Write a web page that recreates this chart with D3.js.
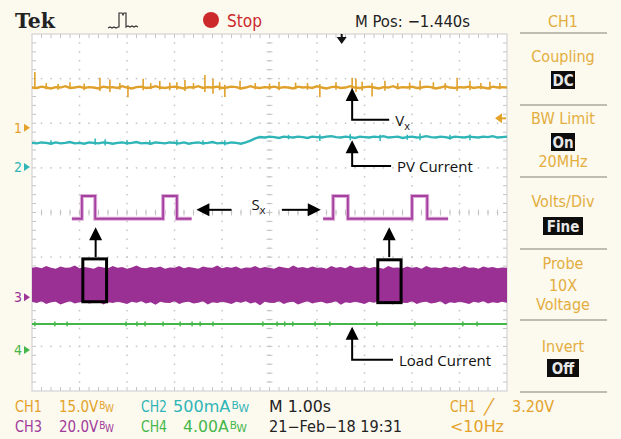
<!DOCTYPE html>
<html><head><meta charset="utf-8">
<script src="https://cdn.jsdelivr.net/npm/d3@7"></script>
<style>
body{margin:0;background:#fcf9ef;}
svg{display:block}
.scope{font-family:"DejaVu Sans Condensed","Liberation Sans Narrow","Arial Narrow",sans-serif;}
.ann{font-family:"Open Sans","Noto Sans",sans-serif;}
</style>
</head><body>
<svg id="c" width="621" height="439"></svg>
<script>
// ---------- DATA (time in s across 10 div at 1.00 s/div, amplitude in divisions from centre) ----------
const sampleStep = 0.1; // s between stored samples
const ch1Level = [2.80,2.79,2.82,2.80,2.78,2.81,2.80,2.83,2.79,2.80,
 2.82,2.79,2.81,2.80,2.78,2.82,2.80,2.81,2.79,2.83,
 2.80,2.78,2.81,2.82,2.79,2.80,2.83,2.80,2.79,2.81,
 2.82,2.80,2.78,2.81,2.80,2.83,2.79,2.81,2.80,2.82,
 2.79,2.80,2.82,2.81,2.78,2.80,2.83,2.80,2.79,2.81,
 2.80,2.82,2.79,2.81,2.80,2.78,2.82,2.80,2.81,2.79,
 2.83,2.80,2.78,2.81,2.82,2.79,2.80,2.83,2.80,2.79,
 2.81,2.82,2.80,2.78,2.81,2.80,2.83,2.79,2.81,2.80,
 2.82,2.79,2.80,2.82,2.81,2.78,2.80,2.83,2.80,2.79,
 2.81,2.80,2.82,2.79,2.81,2.80,2.78,2.82,2.80,2.81,2.80];
const ch1Spikes = [[0.06,2.76,3.15],[0.30,2.76,2.90],[0.55,2.75,2.88],[0.80,2.77,2.92],[1.10,2.74,2.89],
 [1.43,2.72,3.02],[1.64,2.70,2.98],[1.85,2.75,2.90],[2.02,2.58,2.85],[2.34,2.74,3.00],[2.50,2.76,2.90],
 [2.69,2.75,2.95],[2.90,2.74,2.91],[3.05,2.75,2.92],[3.22,2.72,2.97],[3.40,2.76,2.90],[3.64,2.70,3.08],
 [3.81,2.66,3.00],[3.95,2.74,2.92],[4.06,2.59,2.86],[4.38,2.75,2.95],[4.70,2.76,2.90],[5.00,2.75,2.89],
 [5.20,2.74,2.93],[5.55,2.76,2.91],[5.80,2.75,2.90],[6.06,2.58,2.88],[6.40,2.75,2.92],[6.74,2.65,3.02],
 [6.82,2.70,3.00],[6.95,2.73,2.93],[7.16,2.60,2.90],[7.43,2.73,2.95],[7.70,2.76,2.90],[7.95,2.75,2.91],
 [8.17,2.74,2.96],[8.45,2.76,2.92],[8.70,2.75,2.90],[8.95,2.72,3.02],[9.22,2.74,2.95],[9.45,2.76,2.90],
 [9.64,2.75,2.93],[9.85,2.76,2.90]];
const ch2Level = [1.56,1.55,1.57,1.56,1.54,1.57,1.55,1.56,1.58,1.55,
 1.56,1.54,1.57,1.56,1.55,1.57,1.56,1.54,1.56,1.57,
 1.55,1.56,1.58,1.55,1.56,1.54,1.57,1.56,1.55,1.57,
 1.56,1.55,1.57,1.54,1.56,1.57,1.55,1.56,1.58,1.55,
 1.56,1.55,1.57,1.56,1.54,1.57,1.61,1.66,1.69,1.68,
 1.70,1.69,1.67,1.70,1.69,1.68,1.70,1.69,1.67,1.70,
 1.69,1.68,1.70,1.71,1.69,1.68,1.70,1.69,1.67,1.70,
 1.69,1.68,1.70,1.69,1.71,1.68,1.69,1.70,1.67,1.69,
 1.70,1.68,1.69,1.71,1.69,1.68,1.70,1.69,1.67,1.70,
 1.69,1.68,1.70,1.69,1.68,1.70,1.69,1.71,1.68,1.69,1.70];
const ch2Spikes = [[0.40,1.52,1.62],[1.33,1.52,1.66],[1.54,1.50,1.64],[2.00,1.52,1.62],[2.48,1.52,1.62],
 [3.05,1.50,1.63],[3.60,1.52,1.62],[4.06,1.50,1.62],[5.40,1.64,1.74],[6.06,1.60,1.75],[6.70,1.62,1.76],
 [7.33,1.60,1.74],[7.90,1.63,1.74],[8.17,1.62,1.77],[8.80,1.63,1.74],[9.22,1.62,1.75]];
const ch3BandTop = [-1.24,-1.22,-1.25,-1.20,-1.24,-1.26,-1.21,-1.24,-1.23,-1.19,
 -1.25,-1.22,-1.24,-1.26,-1.21,-1.23,-1.25,-1.20,-1.24,-1.22,
 -1.26,-1.23,-1.19,-1.24,-1.25,-1.22,-1.24,-1.21,-1.26,-1.23,
 -1.24,-1.20,-1.25,-1.22,-1.24,-1.26,-1.21,-1.23,-1.24,-1.19,
 -1.25,-1.22,-1.24,-1.21,-1.26,-1.23,-1.24,-1.20,-1.25,-1.22,
 -1.24,-1.26,-1.21,-1.23,-1.25,-1.19,-1.24,-1.22,-1.25,-1.21,
 -1.24,-1.23,-1.26,-1.20,-1.24,-1.22,-1.25,-1.19,-1.24,-1.23,
 -1.21,-1.25,-1.22,-1.24,-1.26,-1.20,-1.24,-1.23,-1.25,-1.21,
 -1.24,-1.22,-1.26,-1.20,-1.24,-1.23,-1.25,-1.21,-1.24,-1.22,
 -1.25,-1.20,-1.24,-1.23,-1.26,-1.21,-1.24,-1.22,-1.25,-1.23,-1.24];
const ch3BandBottom = [-2.00,-2.03,-1.99,-2.05,-2.01,-2.00,-2.06,-2.02,-1.99,-2.04,
 -2.01,-2.00,-2.04,-2.02,-1.99,-2.06,-2.01,-2.03,-2.00,-2.02,
 -2.05,-2.00,-2.02,-1.99,-2.04,-2.01,-2.07,-2.00,-2.02,-2.03,
 -1.99,-2.05,-2.01,-2.00,-2.04,-2.02,-1.99,-2.06,-2.01,-2.03,
 -2.00,-2.02,-2.05,-2.00,-2.02,-1.99,-2.04,-2.01,-2.08,-2.00,
 -2.02,-2.03,-1.99,-2.05,-2.01,-2.00,-2.06,-2.02,-1.99,-2.04,
 -2.01,-2.00,-2.04,-2.02,-1.99,-2.07,-2.01,-2.03,-2.00,-2.02,
 -2.05,-2.00,-2.02,-1.99,-2.04,-2.01,-2.06,-2.00,-2.02,-2.03,
 -1.99,-2.05,-2.01,-2.00,-2.04,-2.02,-1.99,-2.06,-2.01,-2.03,
 -2.00,-2.02,-2.05,-2.00,-2.02,-1.99,-2.04,-2.01,-2.03,-2.00,-2.02];
const sxTrace1 = [[0.84,-0.14],[1.05,-0.14],[1.05,0.37],[1.33,0.37],[1.33,-0.14],[2.76,-0.14],[2.76,0.37],[3.05,0.37],[3.05,-0.14],[3.36,-0.14]];
const sxTrace2 = [[6.13,-0.14],[6.34,-0.14],[6.34,0.37],[6.65,0.37],[6.65,-0.14],[8.00,-0.14],[8.00,0.37],[8.32,0.37],[8.32,-0.14],[8.76,-0.14]];
const ch4Level = -2.50;
const ch4Ticks = [0.06,0.48,0.74,1.98,2.21,2.38,2.76,3.12,3.37,3.54,3.81,4.86,5.16,5.32,5.49,5.96,6.27,7.26,8.06,9.07,9.37];
const channelMarks = [{ch:"1",lvl:1.90,color:"#e3a32a"},{ch:"2",lvl:1.02,color:"#2fb5b7"},{ch:"3",lvl:-1.90,color:"#9c3596"},{ch:"4",lvl:-3.08,color:"#45b74a"}];
const triggerLevel = 2.11;   // CH1 3.20 V
const triggerPos = 6.52;     // M Pos marker
const annotations = [
 {label:"V", sub:"x", tip:[6.74,2.79], corner:[6.74,2.08], end:[7.52,2.08]},
 {label:"PV Current", tip:[6.74,1.62], corner:[6.74,1.04], end:[7.56,1.04]},
 {label:"Load Current", tip:[6.74,-2.56], corner:[6.74,-3.30], end:[7.60,-3.30]}
];
const sxLabel = {pos:[4.62,0.05], leftArrow:[[4.20,0.06],[3.46,0.06]], rightArrow:[[5.26,0.06],[6.08,0.06]]};
const boxes = [{x0:1.07,x1:1.57,y0:-1.04,y1:-2.00,arrowT:1.34},{x0:7.28,x1:7.77,y0:-1.06,y1:-2.02,arrowT:7.52}];
const boxArrowSpan = [-1.00,-0.33];
const menuItems = [
 {kind:"label",text:"Coupling"},{kind:"box",text:"DC"},
 {kind:"label",text:"BW Limit"},{kind:"box",text:"On"},{kind:"label",text:"20MHz"},
 {kind:"label",text:"Volts/Div"},{kind:"box",text:"Fine"},
 {kind:"label",text:"Probe"},{kind:"label",text:"10X"},{kind:"label",text:"Voltage"},
 {kind:"label",text:"Invert"},{kind:"box",text:"Off"}
];

// ---------- SCALES ----------
const svg = d3.select("#c");
const x = d3.scaleLinear().domain([0,10]).range([32,507]);
const y = d3.scaleLinear().domain([-4,4]).range([391,34]);
const gridX = d3.range(1,10), gridY = d3.range(-3,4);

// plot background
svg.append("rect").attr("x",x(0)).attr("y",y(4)).attr("width",x(10)-x(0)).attr("height",y(-4)-y(4)).attr("fill","#ffffff");

// dotted grid
const dots = svg.append("g").attr("fill","#c4c4c4");
gridX.forEach(g=>{ d3.range(0.2,8,0.2).forEach(v=>{ dots.append("rect").attr("x",x(g)-0.75).attr("y",y(v-4)-0.75).attr("width",1.5).attr("height",1.5);});});
gridY.forEach(g=>{ d3.range(0.2,10,0.2).forEach(v=>{ dots.append("rect").attr("x",x(v)-0.75).attr("y",y(g)-0.75).attr("width",1.5).attr("height",1.5);});});
// centre line ticks
const tk = svg.append("g").attr("stroke","#c4c4c4").attr("stroke-width",1);
d3.range(0.2,8,0.2).forEach(v=>{ tk.append("line").attr("x1",x(5)-3).attr("x2",x(5)+3).attr("y1",y(v-4)).attr("y2",y(v-4)); });
d3.range(0.2,10,0.2).forEach(v=>{ tk.append("line").attr("x1",x(v)).attr("x2",x(v)).attr("y1",y(0)-3).attr("y2",y(0)+3); });
// border ticks
d3.range(0.2,10,0.2).forEach(v=>{
  tk.append("line").attr("x1",x(v)).attr("x2",x(v)).attr("y1",y(4)).attr("y2",y(4)+4);
  tk.append("line").attr("x1",x(v)).attr("x2",x(v)).attr("y1",y(-4)).attr("y2",y(-4)-4);
});
d3.range(0.2,8,0.2).forEach(v=>{
  tk.append("line").attr("x1",x(0)).attr("x2",x(0)+4).attr("y1",y(v-4)).attr("y2",y(v-4));
  tk.append("line").attr("x1",x(10)).attr("x2",x(10)-4).attr("y1",y(v-4)).attr("y2",y(v-4));
});
svg.append("rect").attr("x",x(0)).attr("y",y(4)).attr("width",x(10)-x(0)).attr("height",y(-4)-y(4))
  .attr("fill","none").attr("stroke","#d2d2d2").attr("stroke-width",1.2);

// ---------- TRACES ----------
const line = d3.line().x(d=>x(d[0])).y(d=>y(d[1]));
const withTime = arr => arr.map((v,i)=>[i*sampleStep,v]);

// CH3 band
const band = d3.area().x((d,i)=>x(i*sampleStep)).y0((d,i)=>y(ch3BandBottom[i])).y1(d=>y(d));
svg.append("path").attr("d",band(ch3BandTop)).attr("fill","#9a2f94");
// CH3 Sx traces
[sxTrace1,sxTrace2].forEach(tr=>{
  svg.append("path").attr("d",line(tr)).attr("fill","none").attr("stroke","#dcaad8").attr("stroke-width",4);
  svg.append("path").attr("d",line(tr)).attr("fill","none").attr("stroke","#a5409f").attr("stroke-width",1.8);
});
// CH1
svg.append("path").attr("d",line(withTime(ch1Level))).attr("fill","none").attr("stroke","#e0a12c").attr("stroke-width",2.4);
svg.append("g").selectAll("line").data(ch1Spikes).join("line")
  .attr("x1",d=>x(d[0])).attr("x2",d=>x(d[0])).attr("y1",d=>y(d[1])).attr("y2",d=>y(d[2]))
  .attr("stroke","#e0a12c").attr("stroke-width",1.6);
// CH2
svg.append("path").attr("d",line(withTime(ch2Level))).attr("fill","none").attr("stroke","#2fb5b7").attr("stroke-width",2.4);
svg.append("g").selectAll("line").data(ch2Spikes).join("line")
  .attr("x1",d=>x(d[0])).attr("x2",d=>x(d[0])).attr("y1",d=>y(d[1])).attr("y2",d=>y(d[2]))
  .attr("stroke","#2fb5b7").attr("stroke-width",1.5);
// CH4
svg.append("line").attr("x1",x(0)).attr("x2",x(10)).attr("y1",y(ch4Level)).attr("y2",y(ch4Level)).attr("stroke","#45b74a").attr("stroke-width",2);
svg.append("g").selectAll("line").data(ch4Ticks).join("line")
  .attr("x1",d=>x(d)).attr("x2",d=>x(d)).attr("y1",y(ch4Level+0.06)).attr("y2",y(ch4Level-0.05))
  .attr("stroke","#45b74a").attr("stroke-width",1.5);

// channel ground markers
const cm = svg.append("g").attr("class","scope");
channelMarks.forEach(c=>{
  cm.append("text").attr("x",14).attr("y",y(c.lvl)+5).attr("font-size",14).attr("fill",c.color).text(c.ch);
  cm.append("path").attr("d",`M${x(0)-8},${y(c.lvl)-4}L${x(0)-2},${y(c.lvl)}L${x(0)-8},${y(c.lvl)+4}Z`).attr("fill",c.color);
});
// trigger level arrow (right) and trigger position marker (top)
svg.append("path").attr("d",`M${x(10)-12},${y(triggerLevel)}L${x(10)-5},${y(triggerLevel)-5}L${x(10)-5},${y(triggerLevel)+5}Z`).attr("fill","#e3a32a");
svg.append("line").attr("x1",x(10)-6).attr("x2",x(10)-1).attr("y1",y(triggerLevel)).attr("y2",y(triggerLevel)).attr("stroke","#e3a32a").attr("stroke-width",2);
svg.append("path").attr("d",`M${x(triggerPos)-5},${y(4)+3}L${x(triggerPos)+5},${y(4)+3}L${x(triggerPos)},${y(4)+10}Z`).attr("fill","#111");
svg.append("line").attr("x1",x(triggerPos)).attr("x2",x(triggerPos)).attr("y1",y(4)).attr("y2",y(4)+5).attr("stroke","#111").attr("stroke-width",2);

// ---------- ANNOTATIONS ----------
const ag = svg.append("g");
function arrowHead(tx,ty,dir){
  const L=13,W=6.5;
  if(dir==="up") return `M${tx},${ty}L${tx-W},${ty+L}L${tx+W},${ty+L}Z`;
  if(dir==="left") return `M${tx},${ty}L${tx+L},${ty-W}L${tx+L},${ty+W}Z`;
  return `M${tx},${ty}L${tx-L},${ty-W}L${tx-L},${ty+W}Z`;
}
annotations.forEach(a=>{
  ag.append("path").attr("d",`M${x(a.tip[0])},${y(a.tip[1])+10}L${x(a.corner[0])},${y(a.corner[1])}L${x(a.end[0])},${y(a.end[1])}`)
    .attr("fill","none").attr("stroke","#000").attr("stroke-width",2);
  ag.append("path").attr("d",arrowHead(x(a.tip[0]),y(a.tip[1]),"up")).attr("fill","#000");
  const t = ag.append("text").attr("class","ann").attr("x",x(a.end[0])+6).attr("y",y(a.end[1])+6).attr("font-size",15).attr("fill","#111");
  t.append("tspan").text(a.label);
  if(a.sub) t.append("tspan").attr("font-size",11).attr("dy",4).text(a.sub);
});
const sxT = ag.append("text").attr("class","ann").attr("x",x(sxLabel.pos[0])).attr("y",y(sxLabel.pos[1])).attr("font-size",15).attr("fill","#111");
sxT.append("tspan").text("S"); sxT.append("tspan").attr("font-size",11).attr("dy",4).text("x");
ag.append("line").attr("x1",x(sxLabel.leftArrow[0][0])).attr("x2",x(sxLabel.leftArrow[1][0])+10).attr("y1",y(sxLabel.leftArrow[0][1])).attr("y2",y(sxLabel.leftArrow[1][1])).attr("stroke","#000").attr("stroke-width",2);
ag.append("path").attr("d",arrowHead(x(sxLabel.leftArrow[1][0]),y(sxLabel.leftArrow[1][1]),"left")).attr("fill","#000");
ag.append("line").attr("x1",x(sxLabel.rightArrow[0][0])).attr("x2",x(sxLabel.rightArrow[1][0])-10).attr("y1",y(sxLabel.rightArrow[0][1])).attr("y2",y(sxLabel.rightArrow[1][1])).attr("stroke","#000").attr("stroke-width",2);
ag.append("path").attr("d",arrowHead(x(sxLabel.rightArrow[1][0]),y(sxLabel.rightArrow[1][1]),"right")).attr("fill","#000");
boxes.forEach(b=>{
  ag.append("rect").attr("x",x(b.x0)).attr("y",y(b.y0)).attr("width",x(b.x1)-x(b.x0)).attr("height",y(b.y1)-y(b.y0))
    .attr("fill","none").attr("stroke","#000").attr("stroke-width",3);
  ag.append("line").attr("x1",x(b.arrowT)).attr("x2",x(b.arrowT)).attr("y1",y(boxArrowSpan[0])).attr("y2",y(boxArrowSpan[1])+10).attr("stroke","#000").attr("stroke-width",2);
  ag.append("path").attr("d",arrowHead(x(b.arrowT),y(boxArrowSpan[1]),"up")).attr("fill","#000");
});

// ---------- HEADER ----------
const hd = svg.append("g");
hd.append("text").attr("x",15).attr("y",28).attr("font-family","'DejaVu Serif','Liberation Serif',serif").attr("font-weight","bold")
  .attr("font-size",21).attr("textLength",40).attr("lengthAdjust","spacingAndGlyphs").attr("fill","#222").text("Tek");
hd.append("path").attr("d","M108,28l2,-1l2,1l2,-1l2,1l2,-1l1,0l0,-14l3,0l1,2l1,-2l2,0l0,14l2,-1l2,1l2,-1l2,1l2,-1l2,1")
  .attr("fill","none").attr("stroke","#333").attr("stroke-width",1.2);
hd.append("circle").attr("cx",211).attr("cy",20).attr("r",8).attr("fill","#cc2a2a");
hd.append("text").attr("class","scope").attr("x",227).attr("y",27).attr("font-size",17).attr("textLength",35).attr("lengthAdjust","spacingAndGlyphs").attr("fill","#cc2a2a").text("Stop");
hd.append("text").attr("class","scope").attr("x",355).attr("y",27).attr("font-size",16).attr("textLength",115).attr("lengthAdjust","spacingAndGlyphs").attr("fill","#222").text("M Pos: \u22121.440s");
hd.append("text").attr("class","scope").attr("x",563).attr("y",27).attr("text-anchor","middle").attr("font-size",16).attr("fill","#e3ae3e").text("CH1");

// ---------- RIGHT MENU ----------
const mg = svg.append("g").attr("class","scope");
const sepY = [33,105,177,249,320,392];
sepY.forEach(s=>mg.append("line").attr("x1",520).attr("x2",607).attr("y1",s).attr("y2",s).attr("stroke","#bfbcb4").attr("stroke-width",2));
const menuY = [62,80,124,142,167,207,226,269,291,310,352,368];
menuItems.forEach((m,i)=>{
  if(m.kind==="label"){
    mg.append("text").attr("x",563).attr("y",menuY[i]).attr("text-anchor","middle").attr("font-size",16).attr("fill","#e3ae3e").text(m.text);
  } else {
    const w = m.text.length*8+8;
    mg.append("rect").attr("x",563-w/2).attr("y",menuY[i]-9).attr("width",w).attr("height",18).attr("fill","#0d0d0d");
    mg.append("text").attr("x",563).attr("y",menuY[i]+6).attr("text-anchor","middle").attr("font-size",15).attr("font-weight","bold").attr("fill","#e8e8e8").text(m.text);
  }
});

// ---------- FOOTER ----------
const ft = svg.append("g").attr("class","scope").attr("font-size",15);
const footer = [
 {t:"CH1",x:15,y:412,w:27,c:"#e3a32a"},{t:"15.0V",x:59,y:412,w:35,c:"#e3a32a",bw:true},
 {t:"CH2",x:141,y:412,w:26,c:"#2fb5b7"},{t:"500mA",x:173,y:412,w:56,c:"#2fb5b7",bw:true},
 {t:"M 1.00s",x:269,y:412,w:62,c:"#222"},
 {t:"CH1",x:450,y:412,w:26,c:"#e3a32a"},{t:"\u2571",x:484,y:412,w:10,c:"#e3a32a"},{t:"3.20V",x:512,y:412,w:42,c:"#e3a32a"},
 {t:"CH3",x:15,y:432,w:27,c:"#a03a9a"},{t:"20.0V",x:59,y:432,w:35,c:"#a03a9a",bw:true},
 {t:"CH4",x:141,y:432,w:26,c:"#45b74a"},{t:"4.00A",x:183,y:432,w:44,c:"#45b74a",bw:true},
 {t:"21\u2212Feb\u221218 19:31",x:269,y:432,w:133,c:"#222"},
 {t:"<10Hz",x:450,y:432,w:54,c:"#e3a32a"}
];
footer.forEach(f=>{
  const t = ft.append("text").attr("x",f.x).attr("y",f.y).attr("fill",f.c)
    .attr("textLength",f.bw ? f.w+20 : f.w).attr("lengthAdjust","spacingAndGlyphs");
  t.append("tspan").text(f.t);
  if(f.bw){
    t.append("tspan").attr("font-size",10).attr("dy",-3).attr("dx",1).text("B");
    t.append("tspan").attr("font-size",10).attr("dy",3).text("W");
  }
});
</script>
</body></html>
